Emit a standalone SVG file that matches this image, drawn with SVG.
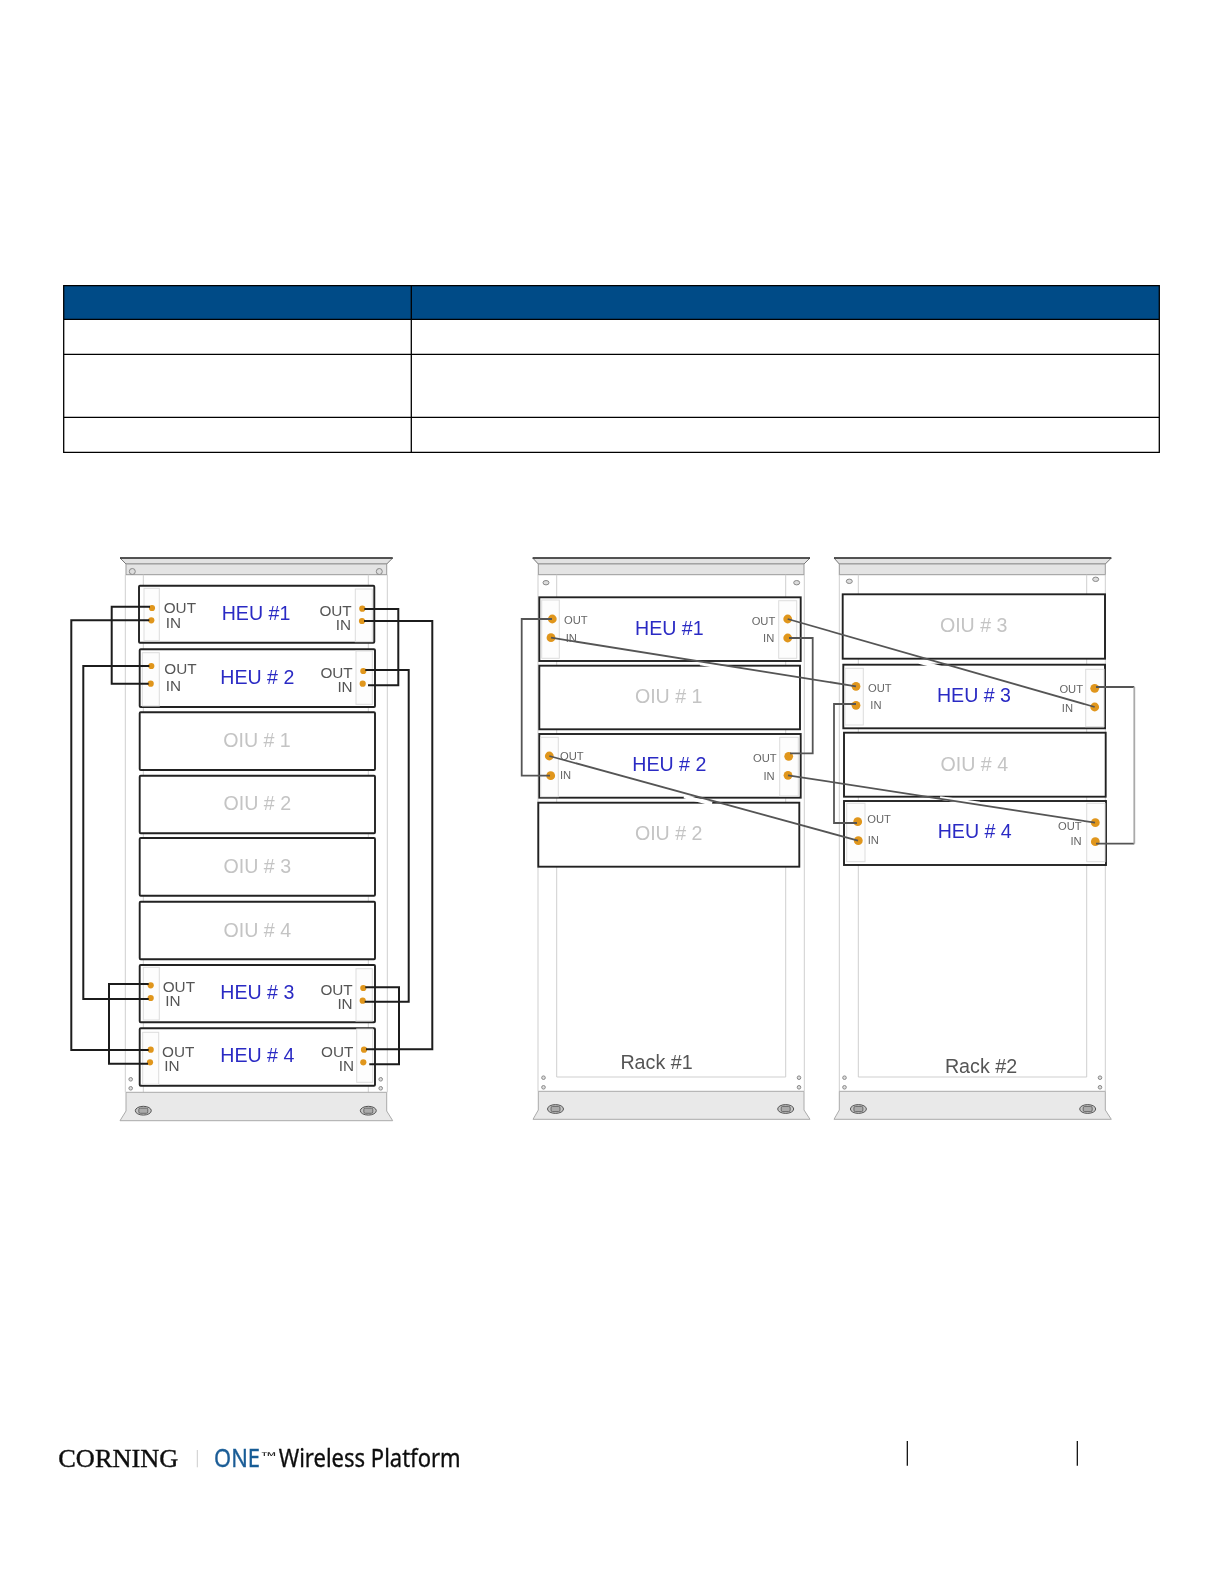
<svg xmlns="http://www.w3.org/2000/svg" xmlns:xlink="http://www.w3.org/1999/xlink" width="1224" height="1584" viewBox="0 0 1224 1584">
<style>
text{font-family:"Liberation Sans",Arial,sans-serif}
.cap{fill:#e2e2e2;stroke:#777;stroke-width:1}
.captop{fill:none;stroke:#333;stroke-width:1.4}
.band{fill:#e4e4e4;stroke:#999;stroke-width:1}
.base{fill:#e9e9e9;stroke:#aaa;stroke-width:1}
.rail{stroke:#cfcfcf;stroke-width:1;fill:none}
.hole{fill:#ddd;stroke:#888;stroke-width:1}
.mod{fill:#fff;stroke:#222;stroke-width:1.9}
.plate{fill:#fdfdfd;stroke:#ddd;stroke-width:1}
.dot{fill:#e0961c}
.heu{fill:#2b2bc4;font-size:19.6px;text-anchor:middle}
.oiu{fill:#c4c4c4;font-size:19.6px;text-anchor:middle}
.p1{fill:#555;font-size:15.3px}
.p2{fill:#666;font-size:11.2px}
.e{text-anchor:end}
.rack{fill:#555;font-size:19.7px;text-anchor:middle}
.c1{fill:none;stroke:#1c1c1c;stroke-width:2}
.c2{fill:none;stroke:#555;stroke-width:1.8}
.tb{stroke:#000;stroke-width:1.3;fill:none}
</style>
<defs>
<filter id="soft" x="-5%" y="-5%" width="110%" height="110%"><feGaussianBlur stdDeviation="0.4"/></filter>
<g id="bolt"><ellipse rx="8" ry="4.4" fill="#c4c4c4" stroke="#555" stroke-width="1"/><rect x="-4.5" y="-2.6" width="9" height="5.2" rx="1.5" fill="#aaa" stroke="#555" stroke-width="0.8"/></g>
</defs>
<rect width="1224" height="1584" fill="#fff"/>

<g id="table">
<rect x="63.7" y="285.7" width="1095.6" height="33.6" fill="#004b87"/>
<path class="tb" d="M63.7 285.7H1159.3V452.3H63.7ZM63.7 319.3H1159.3M63.7 354.3H1159.3M63.7 417.3H1159.3M411.3 285.7V452.3"/>
</g>

<g filter="url(#soft)">
<g id="rack-left-frame">
<path class="cap" d="M120 558H392.7L386.7 564H126Z"/><path class="captop" d="M120 558H392.7"/>
<rect class="band" x="126" y="564" width="260.7" height="10.7"/>
<circle class="hole" cx="132.3" cy="571.5" r="3"/><circle class="hole" cx="379.3" cy="571.5" r="3"/>
<path class="rail" d="M125.3 574.7V1092.3M143.3 574.7V1092.3M368.3 574.7V1092.3M387.3 574.7V1092.3"/>
<circle class="hole" cx="130.7" cy="1079.3" r="1.8"/><circle class="hole" cx="130.7" cy="1088.3" r="1.8"/><circle class="hole" cx="380.7" cy="1079.3" r="1.8"/><circle class="hole" cx="380.7" cy="1088.3" r="1.8"/>
<path class="base" d="M126 1092.3H386.7V1111L392.7 1120.7H120L126 1111Z"/>
<use href="#bolt" x="143.3" y="1110.7"/><use href="#bolt" x="368.3" y="1110.7"/>
</g>

<g id="rack1-frame">
<path class="cap" d="M532.7 558H810L804 564H538.3Z"/><path class="captop" d="M532.7 558H810"/>
<rect class="band" x="538.3" y="564" width="265.7" height="10.7"/>
<ellipse class="hole" cx="546" cy="582.7" rx="3" ry="2.2"/><ellipse class="hole" cx="796.7" cy="582.7" rx="3" ry="2.2"/>
<path class="rail" d="M538 574.7V1091.3M804.3 574.7V1091.3M556.7 574.7V1077H785.7V574.7"/>
<circle class="hole" cx="543.5" cy="1077.7" r="1.8"/><circle class="hole" cx="543.5" cy="1087.3" r="1.8"/><circle class="hole" cx="799" cy="1077.7" r="1.8"/><circle class="hole" cx="799" cy="1087.3" r="1.8"/>
<path class="base" d="M538.3 1091.3H804V1110L810 1119.3H533L538.3 1110Z"/>
<use href="#bolt" x="555.5" y="1109"/><use href="#bolt" x="785.7" y="1109"/>
<text class="rack" x="656.5" y="1069.3">Rack #1</text>
</g>

<g id="rack2-frame">
<path class="cap" d="M834 558H1111.3L1105.3 564H839.3Z"/><path class="captop" d="M834 558H1111.3"/>
<rect class="band" x="839.3" y="564" width="266" height="10.7"/>
<ellipse class="hole" cx="849.3" cy="581.3" rx="3" ry="2.2"/><ellipse class="hole" cx="1095.7" cy="579.3" rx="3" ry="2.2"/>
<path class="rail" d="M839.3 574.7V1091.3M1105.3 574.7V1091.3M858.3 574.7V1077H1086.7V574.7"/>
<circle class="hole" cx="844.5" cy="1077.7" r="1.8"/><circle class="hole" cx="844.5" cy="1087.3" r="1.8"/><circle class="hole" cx="1100" cy="1077.7" r="1.8"/><circle class="hole" cx="1100" cy="1087.3" r="1.8"/>
<path class="base" d="M839.3 1091.3H1105.3V1110L1111.3 1119.3H834L839.3 1110Z"/>
<use href="#bolt" x="858.4" y="1109"/><use href="#bolt" x="1087.7" y="1109"/>
<text class="rack" x="981" y="1072.7">Rack #2</text>
</g>

<!-- left rack nodes -->
<g id="L-heu1"><rect class="mod" x="139" y="585.7" width="235.3" height="57" rx="1"/>
<rect class="plate" x="144" y="588.3" width="15.3" height="52.4"/><rect class="plate" x="355.3" y="589" width="17" height="52.7"/>
<circle class="dot" cx="152" cy="608" r="3.1"/><circle class="dot" cx="151.3" cy="620.3" r="3.1"/><circle class="dot" cx="362.3" cy="608.7" r="3.1"/><circle class="dot" cx="362" cy="621" r="3.1"/>
<text class="p1" x="163.7" y="613">OUT</text><text class="p1" x="165.7" y="628">IN</text><text class="p1 e" x="351.7" y="616">OUT</text><text class="p1 e" x="351" y="630">IN</text>
<text class="heu" x="256" y="620">HEU #1</text></g>
<g id="L-heu2"><rect class="mod" x="139.7" y="649.3" width="235.3" height="57.7" rx="1"/>
<rect class="plate" x="142.3" y="652.7" width="17" height="53.3"/><rect class="plate" x="356" y="651" width="16.3" height="53.3"/>
<circle class="dot" cx="151.3" cy="666" r="3.1"/><circle class="dot" cx="150.7" cy="683.7" r="3.1"/><circle class="dot" cx="363.3" cy="671" r="3.1"/><circle class="dot" cx="362.7" cy="683.7" r="3.1"/>
<text class="p1" x="164.3" y="673.7">OUT</text><text class="p1" x="165.7" y="690.7">IN</text><text class="p1 e" x="352.7" y="678">OUT</text><text class="p1 e" x="352.7" y="692">IN</text>
<text class="heu" x="257.3" y="683.7">HEU # 2</text></g>
<g id="L-oiu1"><rect class="mod" x="139.7" y="712.3" width="235.3" height="57.7" rx="1"/><text class="oiu" x="257" y="747.3">OIU # 1</text></g>
<g id="L-oiu2"><rect class="mod" x="139.7" y="775.7" width="235.3" height="57.6" rx="1"/><text class="oiu" x="257.3" y="810">OIU # 2</text></g>
<g id="L-oiu3"><rect class="mod" x="139.7" y="838" width="235.3" height="57.7" rx="1"/><text class="oiu" x="257.3" y="873.3">OIU # 3</text></g>
<g id="L-oiu4"><rect class="mod" x="139.7" y="901.7" width="235.3" height="57.6" rx="1"/><text class="oiu" x="257.3" y="936.7">OIU # 4</text></g>
<g id="L-heu3"><rect class="mod" x="139.7" y="965" width="235.3" height="57.3" rx="1"/>
<rect class="plate" x="143.3" y="967.3" width="16" height="52.7"/><rect class="plate" x="356" y="968.7" width="16.3" height="52.3"/>
<circle class="dot" cx="150.7" cy="985.3" r="3.1"/><circle class="dot" cx="150.7" cy="998" r="3.1"/><circle class="dot" cx="363.3" cy="988" r="3.1"/><circle class="dot" cx="362.7" cy="1000.7" r="3.1"/>
<text class="p1" x="162.7" y="992.3">OUT</text><text class="p1" x="165.3" y="1006.3">IN</text><text class="p1 e" x="352.7" y="995.3">OUT</text><text class="p1 e" x="352.7" y="1009">IN</text>
<text class="heu" x="257.3" y="999.3">HEU # 3</text></g>
<g id="L-heu4"><rect class="mod" x="139.7" y="1028.3" width="235.3" height="57.4" rx="1"/>
<rect class="plate" x="142.7" y="1032.3" width="16" height="52"/><rect class="plate" x="356.7" y="1029" width="16" height="53.3"/>
<circle class="dot" cx="150.7" cy="1049.7" r="3.1"/><circle class="dot" cx="150" cy="1062.3" r="3.1"/><circle class="dot" cx="364" cy="1049.7" r="3.1"/><circle class="dot" cx="363.3" cy="1062.3" r="3.1"/>
<text class="p1" x="162" y="1057.3">OUT</text><text class="p1" x="164.3" y="1071">IN</text><text class="p1 e" x="353.3" y="1056.7">OUT</text><text class="p1 e" x="354" y="1070.7">IN</text>
<text class="heu" x="257.3" y="1062.3">HEU # 4</text></g>

<!-- rack 1 nodes -->
<g id="R1-heu1"><rect class="mod" x="539.3" y="597.3" width="261.4" height="63.7"/>
<rect class="plate" x="541.7" y="600" width="17.6" height="58.3"/><rect class="plate" x="778.7" y="600.7" width="18" height="57.6"/>
<circle class="dot" cx="552.3" cy="619" r="4.4"/><circle class="dot" cx="551" cy="637.7" r="4.4"/><circle class="dot" cx="787.7" cy="619" r="4.4"/><circle class="dot" cx="787.7" cy="638" r="4.4"/>
<text class="p2" x="564" y="624.3">OUT</text><text class="p2" x="565.7" y="641.7">IN</text><text class="p2 e" x="775.3" y="625">OUT</text><text class="p2 e" x="774.3" y="642">IN</text>
<text class="heu" x="669.3" y="634.7">HEU #1</text></g>
<g id="R1-oiu1"><rect class="mod" x="539.3" y="665.7" width="260.7" height="63.6"/><text class="oiu" x="668.7" y="703.3">OIU # 1</text></g>
<g id="R1-heu2"><rect class="mod" x="539.3" y="734" width="261.4" height="63.7"/>
<rect class="plate" x="540.7" y="737.3" width="17.6" height="59.4"/><rect class="plate" x="779.7" y="737.3" width="18.6" height="58.7"/>
<circle class="dot" cx="549.3" cy="756" r="4.4"/><circle class="dot" cx="550.7" cy="775.7" r="4.4"/><circle class="dot" cx="788.7" cy="756.3" r="4.4"/><circle class="dot" cx="788" cy="775.3" r="4.4"/>
<text class="p2" x="560" y="760.3">OUT</text><text class="p2" x="560" y="779">IN</text><text class="p2 e" x="776.7" y="761.7">OUT</text><text class="p2 e" x="774.7" y="779.7">IN</text>
<text class="heu" x="669.3" y="771">HEU # 2</text></g>
<g id="R1-oiu2"><rect class="mod" x="538.3" y="802.7" width="261" height="64"/><text class="oiu" x="668.7" y="840">OIU # 2</text></g>

<!-- rack 2 nodes -->
<g id="R2-oiu3"><rect class="mod" x="842.7" y="594.3" width="262.3" height="64.4"/><text class="oiu" x="973.7" y="632">OIU # 3</text></g>
<g id="R2-heu3"><rect class="mod" x="843.3" y="664.7" width="261.7" height="63.6"/>
<rect class="plate" x="845" y="668.3" width="18.3" height="56.7"/><rect class="plate" x="1085.7" y="669.3" width="18.3" height="57.4"/>
<circle class="dot" cx="856" cy="686.3" r="4.4"/><circle class="dot" cx="856" cy="705.3" r="4.4"/><circle class="dot" cx="1094.7" cy="688.3" r="4.4"/><circle class="dot" cx="1094.7" cy="707" r="4.4"/>
<text class="p2" x="868" y="691.7">OUT</text><text class="p2" x="870.3" y="708.7">IN</text><text class="p2 e" x="1083" y="693.3">OUT</text><text class="p2 e" x="1073" y="712.3">IN</text>
<text class="heu" x="974" y="702">HEU # 3</text></g>
<g id="R2-oiu4"><rect class="mod" x="844" y="732.7" width="261.7" height="64"/><text class="oiu" x="974.3" y="770.7">OIU # 4</text></g>
<g id="R2-heu4"><rect class="mod" x="844" y="801" width="262" height="64"/>
<rect class="plate" x="846.7" y="803.3" width="18.3" height="58.4"/><rect class="plate" x="1086.7" y="803.3" width="18.3" height="58.4"/>
<circle class="dot" cx="857.7" cy="821.7" r="4.4"/><circle class="dot" cx="858.3" cy="840.7" r="4.4"/><circle class="dot" cx="1095.3" cy="822.7" r="4.4"/><circle class="dot" cx="1095.3" cy="841.7" r="4.4"/>
<text class="p2" x="867.3" y="823.3">OUT</text><text class="p2" x="867.7" y="844.3">IN</text><text class="p2 e" x="1081.7" y="830">OUT</text><text class="p2 e" x="1081.7" y="844.7">IN</text>
<text class="heu" x="974.7" y="837.7">HEU # 4</text></g>

<g id="connectors">
<path class="c1" d="M150 606.7H111.7V683.7H148.7"/>
<path class="c1" d="M149.3 620.3H71.3V1050H148.7"/>
<path class="c1" d="M149.3 666H83.3V999H148.7"/>
<path class="c1" d="M148.7 984H109V1063.7H148"/>
<path class="c1" d="M364.3 609H398.3V685.3H368"/>
<path class="c1" d="M365.3 670H408.7V1001.7H364.7"/>
<path class="c1" d="M364 621H432.3V1049.3H366"/>
<path class="c1" d="M365.3 987.3H399V1064.3H369.3"/>
<path d="M700 663.6L735 669.3M919 662L960 672.5M684 796.5L712 804M940 798L980 803.5" fill="none" stroke="#fff" stroke-width="3.4"/>
<path class="c2" d="M552 619H521.7V775.7H550"/>
<path class="c2" d="M551 637.7L856 686.3"/>
<path class="c2" d="M787.7 619L1094.7 707"/>
<path class="c2" d="M789 638H812.7V753.3H790"/>
<path class="c2" d="M549.3 756L858 840.7"/>
<path class="c2" d="M788 775.3L1095 822.7"/>
<path class="c2" d="M856 704H834V823H857"/>
<path class="c2" d="M1096 687H1134.3M1134.3 843.7H1096"/>
<path d="M1134.3 687V843.7" fill="none" stroke="#aaa" stroke-width="1.8"/>
</g>
</g>

<g id="footer" filter="url(#soft)">
<text x="58.3" y="1466.7" font-size="25" textLength="120" lengthAdjust="spacingAndGlyphs" fill="#111" stroke="#111" stroke-width="0.4" style="font-family:'Liberation Serif','Times New Roman',serif">CORNING</text>
<path d="M197.3 1450V1467.3" stroke="#ccc" stroke-width="1"/>
<text x="214" y="1467" font-size="25" textLength="46" lengthAdjust="spacingAndGlyphs" fill="#1a5c96" stroke="#1a5c96" stroke-width="0.35" style="font-family:'Noto Sans',sans-serif">ONE</text>
<text x="261.5" y="1459.5" font-size="11" textLength="15" lengthAdjust="spacingAndGlyphs" font-weight="700" fill="#222" style="font-family:'Noto Sans',sans-serif">™</text>
<text x="278.7" y="1467" font-size="25" textLength="182" lengthAdjust="spacingAndGlyphs" fill="#111" stroke="#111" stroke-width="0.35" style="font-family:'Noto Sans',sans-serif">Wireless Platform</text>
</g>
<path id="footer-ticks" d="M907.3 1441V1465.7M1077.3 1441V1465.7" stroke="#000" stroke-width="1.2" fill="none"/>
</svg>
